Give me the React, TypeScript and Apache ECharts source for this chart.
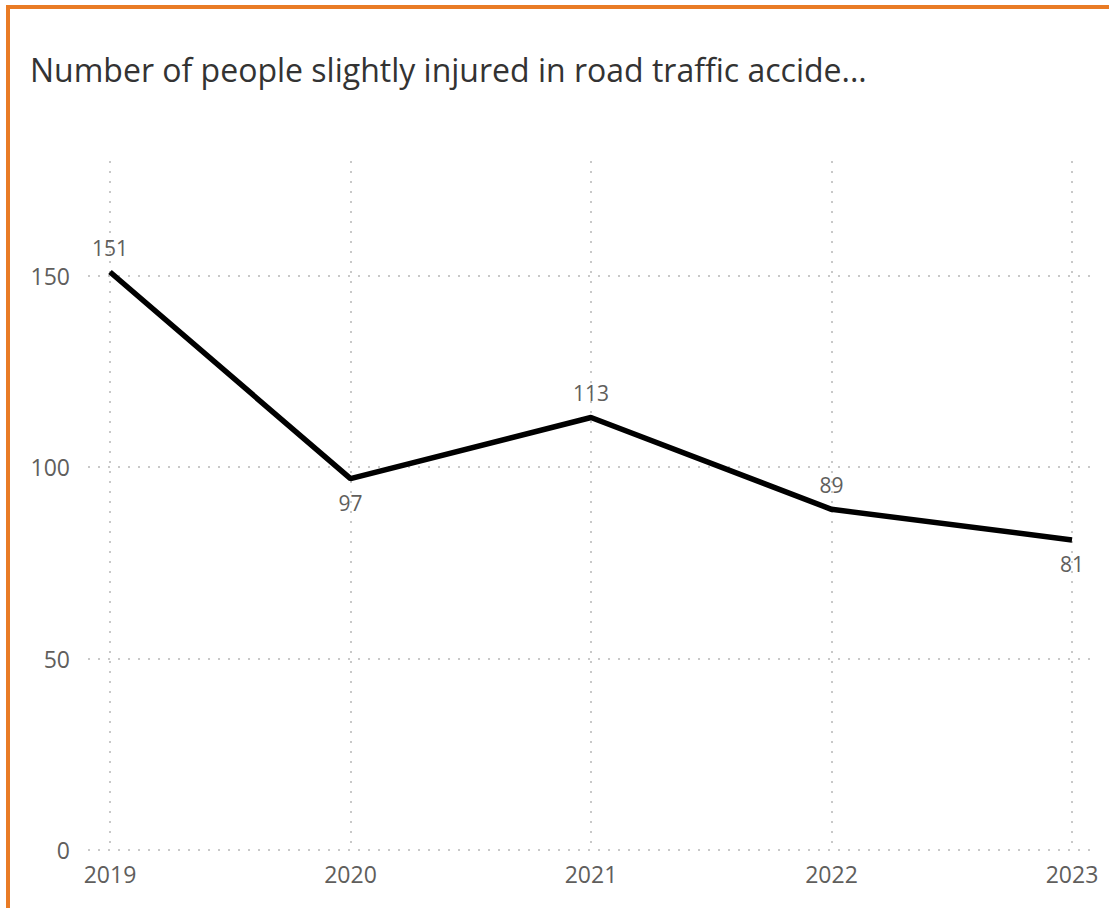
import React, { useEffect, useRef } from "react";
import * as echarts from "echarts";

const TITLE = "Number of people slightly injured in road traffic accide...";
const YEARS = ["2019", "2020", "2021", "2022", "2023"];
const INJURED = [151, 97, 113, 89, 81];
const LABEL_POS = ["top", "bottom", "top", "top", "bottom"];
const Y_MIN = 0;
const Y_MAX = 180;
const Y_STEP = 50;

const FONT = "'Open Sans', 'Noto Sans', sans-serif";
const GRID_COLOR = "#c8c8c8";
const LABEL_COLOR = "#605e5c";

export default function App() {
  const ref = useRef<HTMLDivElement>(null);
  useEffect(() => {
    if (!ref.current) return;
    const chart = echarts.init(ref.current, undefined, { renderer: "svg" });
    const dotted = { color: GRID_COLOR, width: 2, type: [2, 8] as number[] };
    chart.setOption({
      animation: false,
      title: {
        text: TITLE,
        left: 25,
        top: 48,
        textStyle: { fontFamily: FONT, fontSize: 32, fontWeight: "normal", color: "#333333" },
      },
      grid: [
        { left: 88, right: 19, top: 161, bottom: 58 },
        { left: 110, right: 37, top: 161, bottom: 58 },
      ],
      xAxis: [
        { type: "category", gridIndex: 0, data: YEARS, show: false },
        {
          type: "category",
          gridIndex: 1,
          data: YEARS,
          boundaryGap: false,
          axisLine: { show: false },
          axisTick: { show: false },
          axisLabel: { fontFamily: FONT, fontSize: 23, color: LABEL_COLOR, margin: 12 },
          splitLine: { show: true, lineStyle: dotted },
        },
      ],
      yAxis: [
        {
          type: "value",
          gridIndex: 0,
          min: Y_MIN,
          max: Y_MAX,
          interval: Y_STEP,
          axisLine: { show: false },
          axisTick: { show: false },
          axisLabel: {
            fontFamily: FONT,
            fontSize: 23,
            color: LABEL_COLOR,
            margin: 18,
            showMaxLabel: false,
            formatter: (v: number) => (v % Y_STEP === 0 ? String(v) : ""),
          },
          splitLine: { show: true, showMaxLine: false, lineStyle: dotted },
        },
        {
          type: "value",
          gridIndex: 1,
          min: Y_MIN,
          max: Y_MAX,
          interval: Y_STEP,
          show: false,
          splitLine: { show: false },
        },
      ],
      series: [
        {
          type: "line",
          xAxisIndex: 1,
          yAxisIndex: 1,
          data: INJURED.map((v, i) => ({
            value: v,
            label: { position: LABEL_POS[i] },
          })),
          showSymbol: true,
          symbol: "circle",
          symbolSize: 1,
          itemStyle: { color: "rgba(0,0,0,0)" },
          lineStyle: { color: "#000000", width: 5.5 },
          label: {
            show: true,
            fontFamily: FONT,
            fontSize: 21,
            color: LABEL_COLOR,
            distance: 13,
          },
        },
      ],
    });
    return () => chart.dispose();
  }, []);

  return (
    <div style={{ position: "absolute", left: 0, top: 0, width: 1109, height: 908, background: "#fff", overflow: "hidden" }}>
      <div
        style={{
          position: "absolute",
          left: 6,
          top: 5,
          width: 1109,
          height: 908,
          borderTop: "4px solid #E97B25",
          borderLeft: "4px solid #E97B25",
          boxSizing: "border-box",
        }}
      />
      <div ref={ref} style={{ position: "absolute", left: 0, top: 0, width: 1109, height: 908 }} />
    </div>
  );
}
